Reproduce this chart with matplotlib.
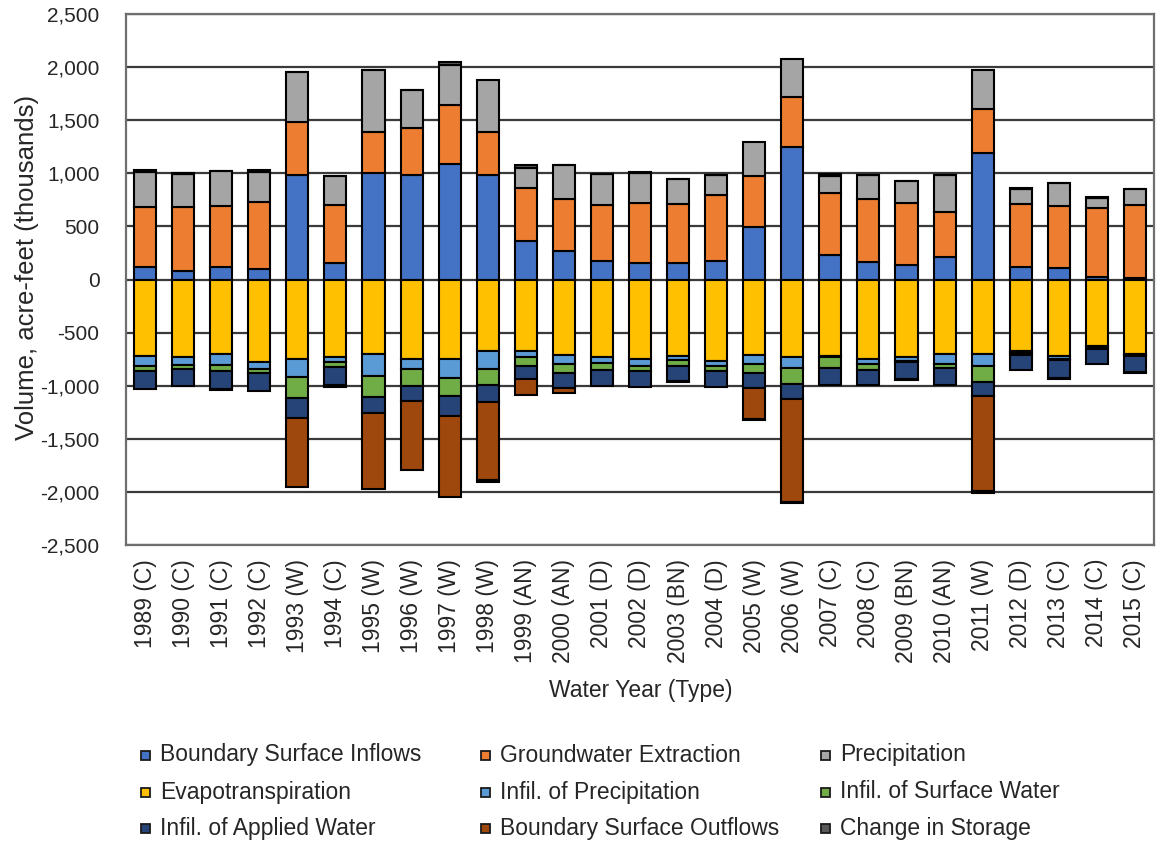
import numpy as np
import matplotlib
matplotlib.use("Agg")
import matplotlib.pyplot as plt
from matplotlib.patches import Rectangle
from matplotlib.ticker import FuncFormatter

plt.rcParams['font.family'] = ['Liberation Sans', 'DejaVu Sans']

years = list(range(1989, 2016))
year_types = ["C", "C", "C", "C", "W", "C", "W", "W", "W", "W", "AN", "AN", "D", "D",
              "BN", "D", "W", "W", "C", "C", "BN", "AN", "W", "D", "C", "C", "C"]
tick_labels = [f"{y} ({t})" for y, t in zip(years, year_types)]

# Water budget components, thousands of acre-feet
boundary_inflows = [115, 84, 115, 100, 984, 156, 1000, 984, 1084, 984, 366, 272, 178, 156,
                    156, 172, 497, 1247, 231, 169, 137, 216, 1187, 119, 106, 28, 12]
gw_extraction = [563, 594, 579, 634, 500, 544, 387, 444, 556, 406, 500, 484, 525, 569,
                 553, 625, 478, 469, 581, 587, 588, 415, 422, 590, 588, 641, 691]
precipitation = [334, 319, 325, 278, 469, 275, 588, 353, 382, 485, 187, 319, 294, 275,
                 235, 184, 322, 362, 163, 225, 203, 350, 366, 141, 212, 97, 147]
evapotranspiration = [-719, -734, -703, -775, -753, -728, -697, -744, -753, -675, -675, -713, -734, -744,
                      -719, -769, -713, -734, -719, -744, -734, -697, -697, -675, -719, -628, -697]
infil_precip = [-94, -72, -103, -69, -163, -47, -209, -103, -172, -172, -53, -78, -50, -69,
                -40, -44, -78, -97, -9, -47, -35, -94, -116, -15, -25, -10, -10]
infil_surface = [-46, -38, -53, -40, -203, -47, -203, -153, -169, -147, -85, -93, -69, -46,
                 -54, -50, -93, -153, -110, -62, -6, -47, -150, -20, -10, -15, -15]
infil_applied = [-172, -156, -172, -166, -181, -172, -150, -141, -190, -156, -128, -141, -147, -157,
                 -143, -153, -141, -141, -156, -141, -163, -156, -131, -143, -171, -138, -147]
boundary_outflows = [0, 0, 0, 0, -653, 0, -710, -656, -763, -741, -147, -47, 0, 0,
                     0, 0, -288, -969, 0, 0, 0, 0, -900, 0, 0, 0, 0]
change_storage = [22, 3, -12, 20, 0, -18, 0, 0, 25, -12, 22, 4, 0, 10,
                  -10, 0, -8, -10, 15, 0, -8, 0, -12, 9, -15, 15, -10]

series = [
    ("Boundary Surface Inflows", boundary_inflows, "#4472C4"),
    ("Groundwater Extraction", gw_extraction, "#ED7D31"),
    ("Precipitation", precipitation, "#A5A5A5"),
    ("Evapotranspiration", evapotranspiration, "#FFC000"),
    ("Infil. of Precipitation", infil_precip, "#5B9BD5"),
    ("Infil. of Surface Water", infil_surface, "#70AD47"),
    ("Infil. of Applied Water", infil_applied, "#264478"),
    ("Boundary Surface Outflows", boundary_outflows, "#9E480E"),
    ("Change in Storage", change_storage, "#595959"),
]

W, H = 1159, 844
fig = plt.figure(figsize=(W / 100, H / 100), dpi=100)
ax = fig.add_axes([126 / W, 1 - 545 / H, (1154 - 126) / W, (545 - 14) / H])

x = np.arange(len(years))
width = 0.58
pos_base = np.zeros(len(years))
neg_base = np.zeros(len(years))
for name, vals, color in series:
    v = np.array(vals, dtype=float)
    bottoms = np.where(v >= 0, pos_base, neg_base)
    ax.bar(x, v, width, bottom=bottoms, color=color, edgecolor="black",
           linewidth=1.5, zorder=3)
    pos_base += np.where(v >= 0, v, 0)
    neg_base += np.where(v < 0, v, 0)

text_color = "#262626"
ax.set_ylim(-2500, 2500)
ax.set_yticks(np.arange(-2500, 2501, 500))
ax.yaxis.set_major_formatter(FuncFormatter(lambda v, p: f"{int(v):,}"))
ax.set_xlim(-0.5, len(years) - 0.5)
ax.set_xticks(x)
ax.set_xticklabels(tick_labels, rotation=90, fontsize=16.5, color=text_color)
ax.tick_params(axis="y", labelsize=15, colors=text_color, length=0, pad=19)
ax.tick_params(axis="x", length=0, pad=10)
ax.grid(axis="y", color="#3a3a3a", linewidth=1.6, zorder=0)
for s in ax.spines.values():
    s.set_color("#6e6e6e")
    s.set_linewidth(1.6)

fig.text(27 / W, 1 - 267 / H, "Volume, acre-feet (thousands)", rotation=90,
         ha="center", va="center", fontsize=18.5, color=text_color)
fig.text(641 / W, 1 - 690 / H, "Water Year (Type)", ha="center", va="center",
         fontsize=16.5, color=text_color)

# Legend laid out as a 3 x 3 grid below the chart
col_x = [141, 481, 821]
row_y = [755, 792, 828]
layout = [[0, 1, 2], [3, 4, 5], [6, 7, 8]]
for r, row in enumerate(layout):
    for c, idx in enumerate(row):
        name, _, color = series[idx]
        sq = 9
        fig.add_artist(Rectangle((col_x[c] / W, 1 - (row_y[r] + sq / 2) / H), sq / W, sq / H,
                                 transform=fig.transFigure, facecolor=color,
                                 edgecolor="#1a1a1a", linewidth=1.3))
        fig.text((col_x[c] + sq + 10) / W, 1 - row_y[r] / H, name, ha="left", va="center",
                 fontsize=16.5, color=text_color)

fig.savefig("out.png", dpi=100, facecolor="white")
